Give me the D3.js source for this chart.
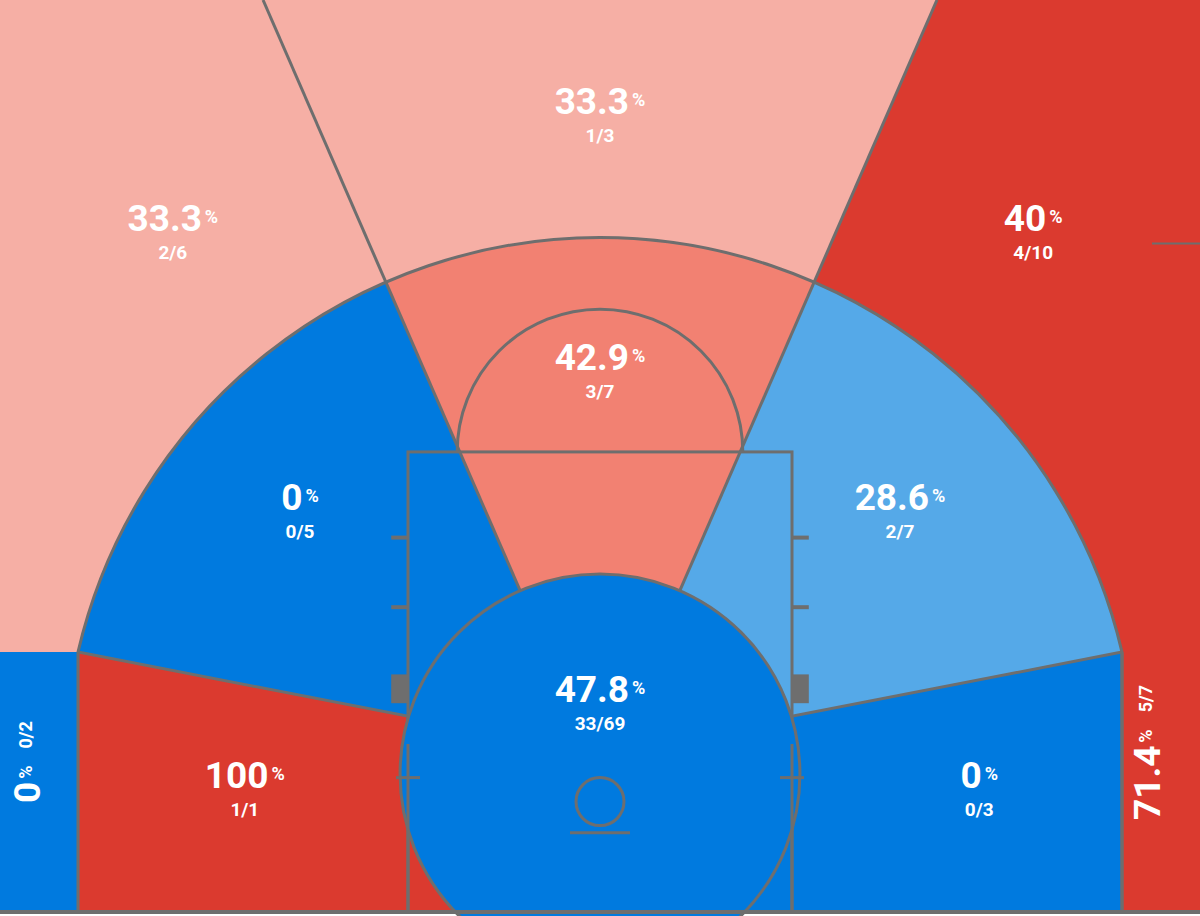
<!DOCTYPE html>
<html>
<head>
<meta charset="utf-8">
<script src="https://cdn.jsdelivr.net/npm/d3@7"></script>
<style>
  body { margin: 0; background: #fff; }
  svg { display: block; font-family: Roboto, "Noto Sans", sans-serif; }
</style>
</head>
<body>
<div id="court"></div>
<script>
// zone data
const zones = ["leftCorner3", "leftWing3", "top3", "rightWing3", "rightCorner3",
               "leftBaseMid", "leftWingMid", "centerMid", "rightWingMid", "rightBaseMid", "paint"];
const made     = [0, 2, 1, 4, 5, 1, 0, 3, 2, 0, 33];
const attempts = [2, 6, 3, 10, 7, 1, 5, 7, 7, 3, 69];
// -2 well below, -1 below, 1 slightly above, 2 above, 3 well above league avg
const rating   = [-2, 1, 1, 3, 3, 3, -2, 2, -1, -2, -2];

const W = 1200, H = 916;
const color = d3.scaleOrdinal()
  .domain([-2, -1, 1, 2, 3])
  .range(["#007ADF", "#55A9E8", "#F6AFA5", "#F28172", "#DB3A2F"]);

// court in feet: x -25..25, y = distance from baseline
const x = d3.scaleLinear().domain([-25, 25]).range([0, W]);
const y = d3.scaleLinear().domain([0, 38]).range([912, 0]);
const ft = 24; // px per foot

const hub = [0, 5.75];      // centre of the three-point arc
const arcR = 22.33;
const cornerX = 21.75;
const cornerTop = 10.83;
const paintR = 8.33;
const keyHalf = 8, ftLine = 19.17, ftR = 5.95;

const P = pts => "M" + pts.map(p => [x(p[0]), y(p[1])].join(",")).join("L") + "Z";

const svg = d3.select("#court").append("svg").attr("width", W).attr("height", H);
const defs = svg.append("defs");

// mid-range clip: inside arc and above baseline
const midPath = `M${x(-cornerX)},${y(cornerTop)} A${arcR * ft},${arcR * ft} 0 0 1 ${x(cornerX)},${y(cornerTop)} L${x(cornerX)},${y(0)} L${x(-cornerX)},${y(0)} Z`;
defs.append("clipPath").attr("id", "mid").append("path").attr("d", midPath);

const topEdgeX = 14.04; // radial line meets top of image
const baseJoin = [0, 6.6];

const threeShapes = [
  [[-25, cornerTop], [-cornerX, cornerTop], [-cornerX, 0], [-25, 0]],
  [[-25, 38], [-topEdgeX, 38], hub, [-cornerX, cornerTop], [-25, cornerTop]],
  [[-topEdgeX, 38], [topEdgeX, 38], hub],
  [[25, 38], [topEdgeX, 38], hub, [cornerX, cornerTop], [25, cornerTop]],
  [[25, cornerTop], [cornerX, cornerTop], [cornerX, 0], [25, 0]]
];
const midShapes = [
  [[-cornerX, cornerTop], baseJoin, [0, 0], [-25, 0]],
  [hub, baseJoin, [-cornerX, cornerTop], [-25, cornerTop], [-25, 38], [-topEdgeX, 38]],
  [[-topEdgeX, 38], [topEdgeX, 38], hub],
  [hub, baseJoin, [cornerX, cornerTop], [25, cornerTop], [25, 38], [topEdgeX, 38]],
  [[cornerX, cornerTop], baseJoin, [0, 0], [25, 0]]
];

const line = "#6E6E6E";

svg.selectAll("path.three").data(threeShapes).join("path")
  .attr("class", "three").attr("d", P)
  .attr("fill", (d, i) => color(rating[i]));

const mid = svg.append("g").attr("clip-path", "url(#mid)");
mid.selectAll("path").data(midShapes).join("path")
  .attr("d", P).attr("fill", (d, i) => color(rating[5 + i]));

// zone separators
const seps = [
  [[-topEdgeX, 38], hub], [[topEdgeX, 38], hub],
  [[-cornerX, cornerTop], baseJoin], [[cornerX, cornerTop], baseJoin]
];
svg.append("g").attr("clip-path", "url(#mid)").selectAll("line").data(seps.slice(2)).join("line")
  .attr("x1", d => x(d[0][0])).attr("y1", d => y(d[0][1]))
  .attr("x2", d => x(d[1][0])).attr("y2", d => y(d[1][1]))
  .attr("stroke", line).attr("stroke-width", 3);
svg.append("g").selectAll("line").data(seps.slice(0, 2)).join("line")
  .attr("x1", d => x(d[0][0])).attr("y1", d => y(d[0][1]))
  .attr("x2", d => x(d[1][0])).attr("y2", d => y(d[1][1]))
  .attr("stroke", line).attr("stroke-width", 3);
svg.append("path").attr("d", midPath).attr("fill", "none").attr("stroke", line).attr("stroke-width", 3);
svg.append("line").attr("x1", x(cornerX)).attr("x2", x(cornerX)).attr("y1", y(cornerTop)).attr("y2", y(0))
  .attr("stroke", line).attr("stroke-width", 3);

// key and free throw arc
svg.append("rect").attr("x", x(-keyHalf)).attr("y", y(ftLine)).attr("width", 2 * keyHalf * ft).attr("height", y(0) - y(ftLine))
  .attr("fill", "none").attr("stroke", line).attr("stroke-width", 3);
svg.append("path")
  .attr("d", `M${x(-ftR)},${y(ftLine)} A${ftR * ft},${ftR * ft} 0 0 1 ${x(ftR)},${y(ftLine)}`)
  .attr("fill", "none").attr("stroke", line).attr("stroke-width", 3);

// lane marks
const hashes = [15.6, 12.7];
[-1, 1].forEach(s => {
  svg.selectAll(null).data(hashes).join("line")
    .attr("x1", x(s * keyHalf)).attr("x2", x(s * (keyHalf + 0.7)))
    .attr("y1", d => y(d)).attr("y2", d => y(d))
    .attr("stroke", line).attr("stroke-width", 4);
  svg.append("rect").attr("x", s < 0 ? x(-keyHalf - 0.7) : x(keyHalf)).attr("y", y(9.9))
    .attr("width", 0.7 * ft).attr("height", 1.2 * ft).attr("fill", line);
});

// paint circle
svg.append("circle").attr("cx", x(hub[0])).attr("cy", y(hub[1])).attr("r", paintR * ft)
  .attr("fill", color(rating[10])).attr("stroke", line).attr("stroke-width", 3);
svg.append("line").attr("x1", x(-keyHalf)).attr("x2", x(-keyHalf)).attr("y1", y(7)).attr("y2", y(0)).attr("stroke", line).attr("stroke-width", 3);
svg.append("line").attr("x1", x(keyHalf)).attr("x2", x(keyHalf)).attr("y1", y(7)).attr("y2", y(0)).attr("stroke", line).attr("stroke-width", 3);
[-1, 1].forEach(s => svg.append("line")
  .attr("x1", x(s * (keyHalf - 0.5))).attr("x2", x(s * (keyHalf + 0.5)))
  .attr("y1", y(5.6)).attr("y2", y(5.6)).attr("stroke", line).attr("stroke-width", 3));

// hoop and backboard
svg.append("circle").attr("cx", x(0)).attr("cy", y(4.6)).attr("r", 24)
  .attr("fill", "none").attr("stroke", line).attr("stroke-width", 3);
svg.append("line").attr("x1", x(-1.25)).attr("x2", x(1.25)).attr("y1", y(3.3)).attr("y2", y(3.3))
  .attr("stroke", line).attr("stroke-width", 3);

// baseline and side tick
svg.append("line").attr("x1", 0).attr("x2", W).attr("y1", y(0)).attr("y2", y(0)).attr("stroke", line).attr("stroke-width", 4);
svg.append("line").attr("x1", x(23)).attr("x2", W).attr("y1", y(27.85)).attr("y2", y(27.85)).attr("stroke", line).attr("stroke-width", 2);

// labels
const labelPos = [[-23.35, 6.3], [-17.8, 28.2], [0, 33.1], [18.05, 28.2], [23.35, 6.7],
                  [-14.8, 5.0], [-12.5, 16.6], [0, 22.4], [12.5, 16.6], [15.8, 5.0], [0, 8.6]];
const pct = (m, a) => { const v = 100 * m / a; return Number.isInteger(v) ? String(v) : v.toFixed(1); };

const lab = svg.selectAll("g.lab").data(zones).join("g").attr("class", "lab")
  .attr("transform", (d, i) => {
    const t = `translate(${x(labelPos[i][0])},${y(labelPos[i][1])})`;
    return (i === 0 || i === 4) ? t + " rotate(-90)" : t;
  })
  .attr("fill", "#fff").attr("font-weight", 700);

lab.each(function(d, i) {
  const g = d3.select(this);
  const corner = i === 0 || i === 4;
  const t = g.append("text").attr("text-anchor", "middle").attr("y", corner ? 0 : -4);
  t.append("tspan").attr("font-size", 37).text(pct(made[i], attempts[i]));
  t.append("tspan").attr("font-size", 18).attr("dx", 3).attr("dy", -8).text("%");
  if (corner) {
    // fraction sits to the right of the percent, rotated with it
    const w = t.node().getComputedTextLength();
    t.attr("text-anchor", "start").attr("x", -w / 2 - 25);
    g.append("text").attr("x", -w / 2 - 25 + w + 20).attr("y", -8).attr("font-size", 18).text(`${made[i]}/${attempts[i]}`);
  } else {
    g.append("text").attr("text-anchor", "middle").attr("y", 24).attr("font-size", 19)
      .text(`${made[i]}/${attempts[i]}`);
  }
});
</script>
</body>
</html>
